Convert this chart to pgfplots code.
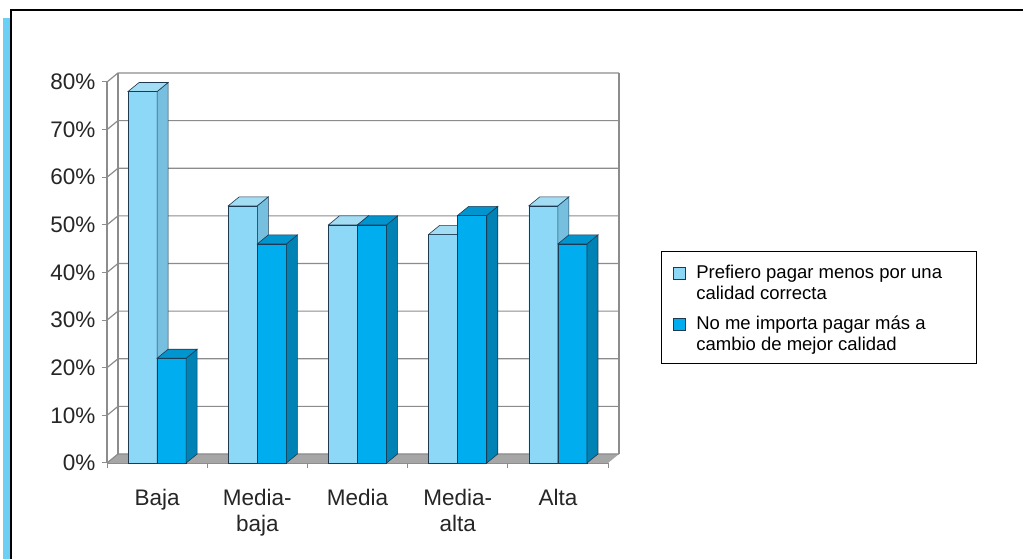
\documentclass[border=0pt]{standalone}
\usepackage{fontspec}
\setmainfont{Liberation Sans}
\usepackage{pgfplots}
\usepackage{pgfplotstable}
\pgfplotsset{compat=1.18}
\definecolor{lightF}{HTML}{8DD7F7}
\definecolor{lightS}{HTML}{76BFDF}
\definecolor{lightT}{HTML}{A3DDF3}
\definecolor{darkF}{HTML}{00ADEE}
\definecolor{darkS}{HTML}{0082B4}
\definecolor{darkT}{HTML}{0095CE}
\definecolor{edge}{HTML}{1E3A52}
\definecolor{gridg}{HTML}{8C8C8C}
\definecolor{floorg}{HTML}{A6A6A6}
\definecolor{strip}{HTML}{6CCFF6}
\pgfplotstableread{
x light dark
1 78 22
2 54 46
3 50 50
4 48 52
5 54 46
}\datatable
\begin{document}
\begin{tikzpicture}
\useasboundingbox (0pt,0pt) rectangle (1023pt,559pt);
\fill[white] (0pt,0pt) rectangle (1023pt,559pt);
\fill[strip] (3pt,0pt) rectangle (10pt,541pt);
\draw[black, line width=1.5pt] (11pt,0pt) -- (11pt,549pt) -- (1023pt,549pt);
\begin{axis}[
  at={(107pt,96pt)}, anchor=south west,
  scale only axis, x=100.2pt, y=4.7625pt,
  xmin=0.5, xmax=5.5, ymin=0, ymax=80,
  clip=false,
  axis x line*=bottom, axis y line*=left,
  axis line style={draw=gridg, line width=1.2pt, -},
  /pgf/number format/assume math mode=true,
  ytick={0,10,20,30,40,50,60,70,80},
  yticklabels={0\%,10\%,20\%,30\%,40\%,50\%,60\%,70\%,80\%},
  xtick={1,2,3,4,5},
  xticklabels={Baja,{Media-\\baja},Media,{Media-\\alta},Alta},
  minor xtick={0.5,1.5,2.5,3.5,4.5,5.5},
  tick align=outside,
  major tick length=5pt, minor tick length=5pt,
  tick style={draw=gridg, line width=1pt},
  major x tick style={draw=none},
  ticklabel style={font=\fontsize{22.5}{26}\selectfont, text=black!85},
  xticklabel style={align=center, yshift=-18pt},
  yticklabel style={xshift=-3pt},
  legend style={at={(1.1058,0.5564)}, anchor=north west, draw=black, line width=1pt,
    font=\fontsize{18.5}{21}\selectfont, row sep=10pt, inner xsep=11pt, inner ysep=10pt,
    cells={anchor=base west},
    /tikz/every odd column/.append style={column sep=9pt}},
]
\fill[floorg] (axis cs:0.5,0) -- (axis cs:5.5,0) -- ([shift={(11pt,9pt)}]axis cs:5.5,0) -- ([shift={(11pt,9pt)}]axis cs:0.5,0) -- cycle;
\pgfplotsinvokeforeach{0,10,20,30,40,50,60,70,80}{
  \draw[gridg, line width=1.2pt] (axis cs:0.5,#1) -- ([shift={(11pt,9pt)}]axis cs:0.5,#1) -- ([shift={(11pt,9pt)}]axis cs:5.5,#1);
}
\draw[gridg, line width=1.2pt] ([shift={(11pt,9pt)}]axis cs:0.5,0) -- ([shift={(11pt,9pt)}]axis cs:0.5,80);
\draw[gridg, line width=1.5pt] ([shift={(11pt,9pt)}]axis cs:5.5,0) -- ([shift={(11pt,9pt)}]axis cs:5.5,80);

\addplot[ybar, bar width=29.06pt, bar shift=-14.53pt, fill=lightF, draw=edge, line width=0.6pt,
  legend image code/.code={\draw[fill=lightF, draw=edge, line width=0.8pt] (0pt,20pt) rectangle (12pt,32pt);}]
  table[x=x, y=light] {\datatable};
\addlegendentry{\begin{tabular}[b]{@{}p{267pt}@{}}Prefiero pagar menos por una\\calidad correcta\end{tabular}}
\addplot[forget plot, only marks, scatter, mark=*, mark size=0pt, mark options={draw=none, fill=none},
  visualization depends on={\thisrow{light} \as \barh},
  scatter/@pre marker code/.code={
    \filldraw[fill=lightS, draw=edge, line width=0.6pt] (0pt,0pt) -- (11pt,9pt) -- (11pt,{9pt-\barh*4.7625pt}) -- (0pt,{-\barh*4.7625pt}) -- cycle;
    \filldraw[fill=lightT, draw=edge, line width=0.6pt] (-29.06pt,0pt) -- (0pt,0pt) -- (11pt,9pt) -- (-18.06pt,9pt) -- cycle;
  },
  scatter/@post marker code/.code={}]
  table[x=x, y=light] {\datatable};

\addplot[ybar, bar width=29.06pt, bar shift=14.53pt, fill=darkF, draw=edge, line width=0.6pt,
  legend image code/.code={\draw[fill=darkF, draw=edge, line width=0.8pt] (0pt,20pt) rectangle (12pt,32pt);}]
  table[x=x, y=dark] {\datatable};
\addlegendentry{\begin{tabular}[b]{@{}p{267pt}@{}}No me importa pagar más a\\cambio de mejor calidad\end{tabular}}
\addplot[forget plot, only marks, scatter, mark=*, mark size=0pt, mark options={draw=none, fill=none},
  visualization depends on={\thisrow{dark} \as \barh},
  scatter/@pre marker code/.code={
    \filldraw[fill=darkF, draw=edge, line width=0.6pt] (0pt,0pt) rectangle (29.06pt,{-\barh*4.7625pt});
    \filldraw[fill=darkS, draw=edge, line width=0.6pt] (29.06pt,0pt) -- (40.06pt,9pt) -- (40.06pt,{9pt-\barh*4.7625pt}) -- (29.06pt,{-\barh*4.7625pt}) -- cycle;
    \filldraw[fill=darkT, draw=edge, line width=0.6pt] (0pt,0pt) -- (29.06pt,0pt) -- (40.06pt,9pt) -- (11pt,9pt) -- cycle;
  },
  scatter/@post marker code/.code={}]
  table[x=x, y=dark] {\datatable};
\end{axis}
\end{tikzpicture}
\end{document}
